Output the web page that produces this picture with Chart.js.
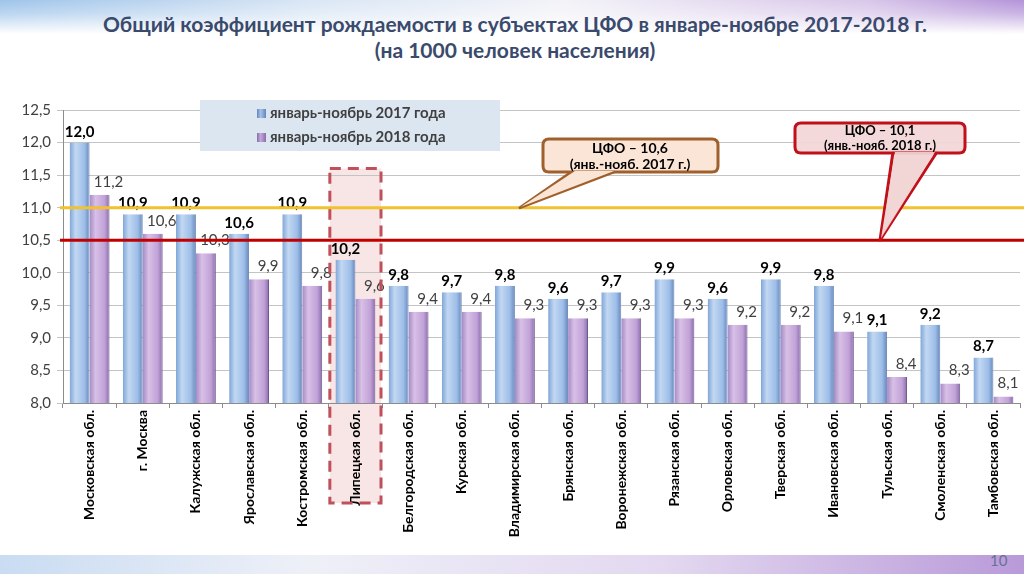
<!DOCTYPE html>
<html><head><meta charset="utf-8">
<script src="https://cdn.jsdelivr.net/npm/chart.js@4"></script>
<style>
html,body{margin:0;padding:0;width:1024px;height:574px;overflow:hidden;background:#fff;font-family:Lato,"Open Sans",sans-serif;}
#topband{position:absolute;left:0;top:0;width:1024px;height:34px;background:linear-gradient(to right,#9ec4ea 0%,#d9e6f5 30%,#f3f3f8 55%,#d8c6ea 85%,#b393d8 100%);}
#topfade{position:absolute;left:0;top:0;width:1024px;height:34px;background:linear-gradient(to bottom,rgba(255,255,255,0) 0%,rgba(255,255,255,0.3) 40%,#fff 100%);}
#botband{position:absolute;left:0;top:555px;width:1024px;height:19px;background:linear-gradient(to right,#c9dcf2 0%,#eef0f8 30%,#e3d8f0 65%,#b99ad9 100%);}
#title{position:absolute;left:0;top:11px;width:1030px;text-align:center;font-weight:bold;font-size:21px;line-height:26px;color:#3a4a6c;}
#pnum{position:absolute;left:990px;top:551px;font-size:15px;color:#6b6f9a;}
#wrap{position:absolute;left:0;top:0;width:1024px;height:574px;}
</style></head>
<body>
<div id="topband"></div><div id="topfade"></div>
<div id="botband"></div>
<div id="title">Общий коэффициент рождаемости в субъектах ЦФО в январе-ноябре 2017-2018 г.<br>(на 1000 человек населения)</div>
<div id="pnum">10</div>
<div id="wrap"><canvas id="c" width="1024" height="574"></canvas></div>
<script>
const categories = ["Московская обл.","г. Москва","Калужская обл.","Ярославская обл.","Костромская обл.","Липецкая обл.","Белгородская обл.","Курская обл.","Владимирская обл.","Брянская обл.","Воронежская обл.","Рязанская обл.","Орловская обл.","Тверская обл.","Ивановская обл.","Тульская обл.","Смоленская обл.","Тамбовская обл."];
const values2017 = [12.0,10.9,10.9,10.6,10.9,10.2,9.8,9.7,9.8,9.6,9.7,9.9,9.6,9.9,9.8,9.1,9.2,8.7];
const values2018 = [11.2,10.6,10.3,9.9,9.8,9.6,9.4,9.4,9.3,9.3,9.3,9.3,9.2,9.2,9.1,8.4,8.3,8.1];
const seriesNames = ["январь-ноябрь 2017 года","январь-ноябрь 2018 года"];
const yTicks = [8.0,8.5,9.0,9.5,10.0,10.5,11.0,11.5,12.0,12.5];
const refLine2017 = 11.0;   // drawn position of the "ЦФО – 10,6" line
const refLine2018 = 10.5;   // drawn position of the "ЦФО – 10,1" line
const highlightIndex = 5;
const callout2017 = ["ЦФО – 10,6","(янв.-нояб. 2017 г.)"];
const callout2018 = ["ЦФО – 10,1","(янв.-нояб. 2018 г.)"];

const FONT = 'Lato, "Open Sans", sans-serif';
const fmt = v => v.toFixed(1).replace('.', ',');
const catPct = 0.75;

function barGradient(ctx, dsIndex){
  const solid = dsIndex === 0 ? '#a3c2ea' : '#c4a8dc';
  if (ctx.type !== 'data') return solid;
  const chart = ctx.chart;
  const xs = chart.scales && chart.scales.x;
  if (!chart.chartArea || !xs || !xs.width) return solid;
  const catW = xs.width / categories.length;
  const bw = catW * catPct / 2;
  const cx = xs.getPixelForValue(ctx.dataIndex);
  const left = dsIndex === 0 ? cx - bw : cx;
  const g = chart.ctx.createLinearGradient(left, 0, left + bw, 0);
  if (dsIndex === 0){
    g.addColorStop(0,'#7fa5d8'); g.addColorStop(0.3,'#c2d8f2'); g.addColorStop(0.75,'#9dbde8'); g.addColorStop(1,'#6686ba');
  } else {
    g.addColorStop(0,'#a48ac6'); g.addColorStop(0.3,'#d8c0e6'); g.addColorStop(0.75,'#c1a2d8'); g.addColorStop(1,'#8a6cab');
  }
  return g;
}

function roundRect(c, x, y, w, h, r){
  c.beginPath();
  c.moveTo(x+r,y); c.lineTo(x+w-r,y); c.quadraticCurveTo(x+w,y,x+w,y+r);
  c.lineTo(x+w,y+h-r); c.quadraticCurveTo(x+w,y+h,x+w-r,y+h);
  c.lineTo(x+r,y+h); c.quadraticCurveTo(x,y+h,x,y+h-r);
  c.lineTo(x,y+r); c.quadraticCurveTo(x,y,x+r,y); c.closePath();
}

const deco = {
  id:'deco',
  beforeDraw(chart){
    const c = chart.ctx, xs = chart.scales.x, ys = chart.scales.y;
    const catW = xs.width / categories.length;
    const cx = xs.getPixelForValue(highlightIndex);
    const top = ys.getPixelForValue(11.6);
    const bottom = chart.chartArea.bottom + 100;
    c.save();
    c.fillStyle = 'rgba(242,205,205,0.5)';
    c.fillRect(cx - catW/2 + 1, top, catW - 2, bottom - top);
    c.restore();
  },
  afterDatasetsDraw(chart){
    const c = chart.ctx, xs = chart.scales.x, ys = chart.scales.y, ca = chart.chartArea;
    const catW = xs.width / categories.length;
    const bw = catW * catPct / 2;
    // data labels
    c.save();
    c.textAlign = 'center'; c.textBaseline = 'alphabetic';
    values2017.forEach((v,i)=>{
      const cx = xs.getPixelForValue(i) - bw/2;
      c.font = 'bold 15px ' + FONT; c.fillStyle = '#000';
      c.fillText(fmt(v), cx, ys.getPixelForValue(v) - 6);
    });
    values2018.forEach((v,i)=>{
      const cx = Math.min(xs.getPixelForValue(i) + bw/2 + 9, chart.width - 16);
      c.font = '15px ' + FONT; c.fillStyle = '#404040';
      c.fillText(fmt(v), cx, ys.getPixelForValue(v) - 8);
    });
    c.restore();
    // highlight dashed border
    const hx = xs.getPixelForValue(highlightIndex);
    const htop = ys.getPixelForValue(11.6), hbot = ca.bottom + 100;
    c.save();
    c.strokeStyle = '#c0505a'; c.lineWidth = 3; c.setLineDash([11,7]);
    c.strokeRect(hx - catW/2 + 1, htop, catW - 2, hbot - htop);
    c.restore();
    // reference lines
    const y1 = ys.getPixelForValue(refLine2017), y2 = ys.getPixelForValue(refLine2018);
    c.save();
    c.lineWidth = 3;
    c.strokeStyle = '#f2c12e';
    c.beginPath(); c.moveTo(ca.left - 3, y1); c.lineTo(chart.width, y1); c.stroke();
    c.strokeStyle = '#c00000';
    c.beginPath(); c.moveTo(ca.left - 3, y2); c.lineTo(chart.width, y2); c.stroke();
    c.restore();
    // legend box
    c.save();
    c.fillStyle = '#dce6f1';
    c.fillRect(200, 100, 300, 51);
    c.font = 'bold 15px ' + FONT; c.textAlign = 'left'; c.textBaseline = 'middle';
    [['#a3c2ea','#6686ba'],['#c4a8dc','#8a6cab']].forEach((col,k)=>{
      const yy = 113 + k*24;
      const g = c.createLinearGradient(257,0,266,0);
      g.addColorStop(0,col[1]); g.addColorStop(0.4,col[0]); g.addColorStop(1,col[1]);
      c.fillStyle = g; c.fillRect(257, yy-4, 9, 9);
      c.fillStyle = '#404040';
      c.fillText(seriesNames[k], 270, yy);
    });
    c.restore();
    // callout 2017
    c.save();
    c.lineWidth = 3; c.lineJoin = 'round';
    c.fillStyle = '#fbe5d6'; c.strokeStyle = '#a0602c';
    c.beginPath(); c.moveTo(573, 171); c.lineTo(ca.left + 457, y1); c.lineTo(616, 171); c.closePath();
    c.fill(); c.stroke();
    roundRect(c, 543, 139, 175, 33, 6); c.fill(); c.stroke();
    c.beginPath(); c.moveTo(575, 171); c.lineTo(ca.left + 458, y1 - 1); c.lineTo(614, 171); c.closePath(); c.fill();
    c.fillStyle = '#000'; c.font = 'bold 14px ' + FONT; c.textAlign = 'center'; c.textBaseline = 'middle';
    c.fillText(callout2017[0], 630, 148); c.fillText(callout2017[1], 630, 164);
    c.restore();
    // callout 2018
    c.save();
    c.lineWidth = 3; c.lineJoin = 'round';
    c.fillStyle = 'rgba(242,214,214,0.92)'; c.strokeStyle = '#c0101a';
    c.beginPath(); c.moveTo(893, 152); c.lineTo(880, y2); c.lineTo(937, 152); c.closePath();
    c.fill(); c.stroke();
    roundRect(c, 795, 123, 170, 30, 6); c.fill(); c.stroke();
    c.beginPath(); c.moveTo(895, 152); c.lineTo(881, y2 - 2); c.lineTo(935, 152); c.closePath(); c.fill();
    c.fillStyle = '#000'; c.font = 'bold 13px ' + FONT; c.textAlign = 'center'; c.textBaseline = 'middle';
    c.fillText(callout2018[0], 880, 131); c.fillText(callout2018[1], 880, 146);
    c.restore();
  }
};

new Chart(document.getElementById('c'), {
  type:'bar',
  data:{
    labels: categories,
    datasets:[
      {label:seriesNames[0], data:values2017, backgroundColor:ctx=>barGradient(ctx,0), borderColor:'#6a88b8', borderWidth:{right:1}, categoryPercentage:catPct, barPercentage:1.0},
      {label:seriesNames[1], data:values2018, backgroundColor:ctx=>barGradient(ctx,1), borderColor:'#6e5a8e', borderWidth:{right:1}, categoryPercentage:catPct, barPercentage:1.0}
    ]
  },
  options:{
    responsive:false, animation:false,
    layout:{padding:{left:0,top:110,right:4,bottom:0}},
    plugins:{legend:{display:false}, tooltip:{enabled:false}, title:{display:false}},
    scales:{
      x:{
        grid:{offset:true, drawOnChartArea:false, drawTicks:true, tickLength:5, color:'#8c8c8c'},
        border:{color:'#8c8c8c'},
        ticks:{minRotation:90, maxRotation:90, autoSkip:false, color:'#000', font:{family:FONT, size:14, weight:'bold'}, padding:2},
        afterFit(s){ s.height = 171; }
      },
      y:{
        min:8, max:12.5,
        afterBuildTicks(s){ s.ticks = yTicks.map(v=>({value:v})); },
        grid:{color:'#c4c4c4', tickLength:6, drawTicks:true},
        border:{color:'#8c8c8c'},
        ticks:{color:'#404040', font:{family:FONT, size:15}, padding:6, callback:v=>fmt(v)},
        afterFit(s){ s.width = 63; }
      }
    }
  },
  plugins:[deco]
});
</script>
</body></html>
